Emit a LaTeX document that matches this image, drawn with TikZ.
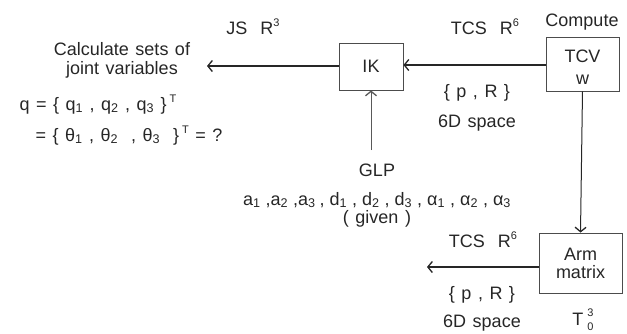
\documentclass[tikz,border=0pt]{standalone}
\usepackage{fontspec}
\setmainfont{Liberation Sans}[WordSpace=1.3]
\usetikzlibrary{arrows.meta}

\newcommand{\sub}[1]{\textsubscript{#1}}
\newcommand{\sups}[1]{\raisebox{8pt}{\fontsize{11}{11}\selectfont #1}}

\begin{document}
\begin{tikzpicture}[x=1pt,y=-1pt,
  font=\fontsize{18}{20}\selectfont, text=black!85,
  >={Straight Barb[length=4.5pt,width=11pt,line width=1.3pt]},
  blk/.style={draw=black!70, line width=0.9pt, align=center, inner sep=0pt},
  lnk/.style={->, line width=1.3pt, draw=black!85}]
\useasboundingbox (0,0) rectangle (627,333);

%% blocks
\node[blk, minimum width=64pt, minimum height=47pt] (ik) at (371,66.5) {IK};
\node[blk, minimum width=73pt, minimum height=54pt] (tcv) at (582.5,64) {};
\node (tcvtxt) at (582.5,56) {TCV};
\node (tcvw) at (582.5,80) {w};
\node[blk, minimum width=83pt, minimum height=60pt] (arm) at (580.5,263)
  {Arm\\[-2pt]matrix};

%% free ends
\coordinate (js) at (207,66);
\coordinate (glp) at (371,150);
\coordinate (armout) at (427,267);

%% labels
\node (comp) at (582,22) {Compute};
\node (tcsa) at (485,27) {TCS\ \ R\sups{6}};
\node (pra) at (477,93) {\{ p , R \}};
\node (spa) at (477,123) {6D space};
\node (jsr) at (253,27) {JS\ \ R\sups{3}};
\node (calc) at (122,49) {Calculate sets of};
\node (joint) at (122,70) {joint variables};
\node[anchor=base west] (qa) at (16,110)
  {q = \{ q\sub{1} , q\sub{2} , q\sub{3} \}\,\sups{T}};
\node[anchor=base west] (qb) at (32,141)
  {= \{ θ\sub{1} , θ\sub{2} \ , θ\sub{3} \ \}\,\sups{T} = ?};
\node (glptxt) at (377,170) {GLP};
\node (par) at (377,200)
  {a\sub{1}\hspace{5pt},a\sub{2}\hspace{5pt},a\sub{3}\hspace{4pt},\hspace{5pt}d\sub{1}\hspace{5pt},\hspace{5pt}d\sub{2}\hspace{5pt},\hspace{5pt}d\sub{3}\hspace{5pt},\hspace{5pt}α\sub{1}\hspace{5pt},\hspace{5pt}α\sub{2}\hspace{5pt},\hspace{5pt}α\sub{3}};
\node (giv) at (377,219) {( given )};
\node (tcsb) at (483,240) {TCS\ \ R\sups{6}};
\node (prb) at (482,295) {\{ p , R \}};
\node (spb) at (482,323) {6D space};
\node (tmat) at (583,320) {T\raisebox{-5pt}{\fontsize{11}{11}\selectfont\ 0}\hspace{-6pt}\raisebox{9pt}{\fontsize{11}{11}\selectfont 3}};

%% connectors
\draw[lnk] (ik.west |- js) -- (js);
\draw[lnk] (tcv.west |- 0,65) -- (ik.east |- 0,65);
\draw[lnk, line width=1pt] (tcv.south) -- (arm.north);
\draw[lnk] (arm.west |- armout) -- (armout);
\draw[lnk, line width=1pt, draw=black!65] (glp) -- (ik.south);
\end{tikzpicture}
\end{document}
